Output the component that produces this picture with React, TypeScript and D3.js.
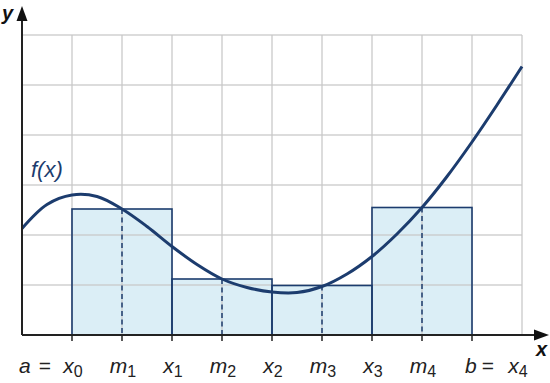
import React from "react";
import * as d3 from "d3";

const curveX = [0, 0.5, 1, 1.5, 2, 2.5, 3, 3.5, 4, 4.5, 5, 5.5, 6, 6.5, 7, 7.5, 8, 8.5, 9, 9.5, 10];
const curveY = [2.13, 2.61, 2.8, 2.77, 2.52, 2.17, 1.77, 1.41, 1.12, 0.95, 0.86, 0.85, 0.97, 1.22, 1.57, 2.02, 2.55, 3.17, 3.86, 4.6, 5.37];

const partitionX = [1, 3, 5, 7, 9];
const midX = [2, 4, 6, 8];
const rectHeights = [2.52, 1.12, 0.99, 2.55];
const gridXs = [1, 2, 3, 4, 5, 6, 7, 8, 9, 10];
const gridYs = [1, 2, 3, 4, 5, 6];

const tickLabels = [
  { x: 1, main: "x", sub: "0" },
  { x: 2, main: "m", sub: "1" },
  { x: 3, main: "x", sub: "1" },
  { x: 4, main: "m", sub: "2" },
  { x: 5, main: "x", sub: "2" },
  { x: 6, main: "m", sub: "3" },
  { x: 7, main: "x", sub: "3" },
  { x: 8, main: "m", sub: "4" },
];

const W = 550, H = 383;
const FONT = "'Liberation Sans', Arial, sans-serif";
const DARK = "#1c3c6e";

export default function App() {
  const x = d3.scaleLinear().domain([0, 10]).range([22, 522]);
  const y = d3.scaleLinear().domain([0, 6]).range([335, 35]);

  const line = d3
    .line<number>()
    .x((_, i) => x(curveX[i]))
    .y((d) => y(d))
    .curve(d3.curveCatmullRom.alpha(0.5));

  const rects = rectHeights.map((h, i) => ({ x0: partitionX[i], x1: partitionX[i + 1], h }));

  const labelY = 373;
  const subStyle = { fontStyle: "normal" as const, fontSize: 16 };

  return (
    <svg width={W} height={H} style={{ position: "absolute", left: 0, top: 0 }} fontFamily={FONT}>
      <rect width={W} height={H} fill="#fff" />
      {rects.map((r, i) => (
        <rect key={"f" + i} x={x(r.x0)} y={y(r.h)} width={x(r.x1) - x(r.x0)} height={y(0) - y(r.h)} fill="#dbeef6" />
      ))}
      {gridXs.map((g) => (
        <line key={"gx" + g} x1={x(g)} x2={x(g)} y1={y(6)} y2={y(0)} stroke="#c8c8c8" strokeWidth={1.5} opacity={0.85} />
      ))}
      {gridYs.map((g) => (
        <line key={"gy" + g} x1={x(0)} x2={x(10)} y1={y(g)} y2={y(g)} stroke="#c8c8c8" strokeWidth={1.5} opacity={0.85} />
      ))}
      {rects.map((r, i) => (
        <rect key={"s" + i} x={x(r.x0)} y={y(r.h)} width={x(r.x1) - x(r.x0)} height={y(0) - y(r.h)} fill="none" stroke={DARK} strokeWidth={1.6} />
      ))}
      {midX.map((m, i) => (
        <line key={"m" + i} x1={x(m)} x2={x(m)} y1={y(rectHeights[i])} y2={y(0)} stroke={DARK} strokeWidth={1.5} strokeDasharray="5,3.5" />
      ))}
      <path d={line(curveY) || ""} fill="none" stroke={DARK} strokeWidth={3} />
      <line x1={x(0)} x2={538} y1={y(0)} y2={y(0)} stroke="#222" strokeWidth={2} />
      <path d={`M549,${y(0)} L534,${y(0) - 5.5} L534,${y(0) + 5.5} Z`} fill="#111" />
      <line x1={x(0)} x2={x(0)} y1={y(0)} y2={20} stroke="#222" strokeWidth={2} />
      <path d={`M${x(0)},6 L${x(0) - 5.5},21 L${x(0) + 5.5},21 Z`} fill="#111" />
      {[...partitionX, ...midX].map((t) => (
        <line key={"t" + t} x1={x(t)} x2={x(t)} y1={y(0)} y2={y(0) + 6} stroke="#222" strokeWidth={1.5} />
      ))}
      <text x={2} y={20} fontSize={20} fontWeight="bold" fontStyle="italic" fill="#111">y</text>
      <text x={536} y={356} fontSize={20} fontWeight="bold" fontStyle="italic" fill="#111">x</text>
      <text x={31} y={177} fontSize={22} fontStyle="italic" fill={DARK}>f(x)</text>
      <g fontSize={21} fontStyle="italic" fill="#222">
        <text x={x(1) - 53} y={labelY}>a</text>
        <text x={x(1) - 27} y={labelY} textAnchor="middle" fontStyle="normal">=</text>
        {tickLabels.map((t) => (
          <text key={"l" + t.x + t.main} x={x(t.x) + 1} y={labelY} textAnchor="middle">
            {t.main}
            <tspan dy={4} {...subStyle}>{t.sub}</tspan>
          </text>
        ))}
        <text x={x(9) - 7} y={labelY}>b</text>
        <text x={x(9) + 16} y={labelY} textAnchor="middle" fontStyle="normal">=</text>
        <text x={x(9) + 46} y={labelY} textAnchor="middle">x<tspan dy={4} {...subStyle}>4</tspan></text>
      </g>
    </svg>
  );
}
